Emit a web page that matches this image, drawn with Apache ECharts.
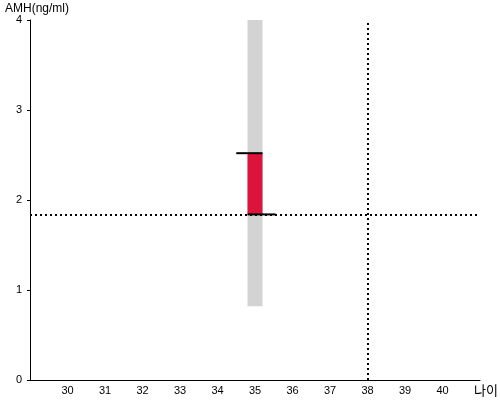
<!DOCTYPE html>
<html>
<head>
<meta charset="utf-8">
<script src="https://cdn.jsdelivr.net/npm/echarts@6/dist/echarts.min.js"></script>
<style>
  html, body { margin: 0; padding: 0; background: #fff; }
  #chart { width: 500px; height: 400px; }
</style>
</head>
<body>
<div id="chart"></div>
<script>
// 축 범위
let xRange = [29, 41]
let yRange = [0, 4]
// 회색 정상범위 [x0, x1, y0, y1]
let grayBox = [34.8, 35.2, 0.82, 4]
// 빨간 막대 [x0, x1, y0, y1]
let redBox = [34.8, 35.2, 1.84, 2.52]
// 검은 가로선 [x0, x1, y]
let topTick = [34.5, 35.2, 2.52]
let bottomTick = [34.8, 35.55, 1.84]
// 점선 기준
let refAge = 38
let refAmh = 1.84

let myChart = echarts.init(document.getElementById('chart'))

function boxItem (params, api) {
  let d = params.dataIndex === 0 ? grayBox : redBox
  let p0 = api.coord([d[0], d[3]])
  let p1 = api.coord([d[1], d[2]])
  return {
    type: 'rect',
    shape: { x: p0[0], y: p0[1], width: p1[0] - p0[0], height: p1[1] - p0[1] },
    style: { fill: params.dataIndex === 0 ? '#d3d3d3' : '#dc143c' },
  }
}

function tickItem (params, api) {
  let d = params.dataIndex === 0 ? topTick : bottomTick
  let p0 = api.coord([d[0], d[2]])
  let p1 = api.coord([d[1], d[2]])
  return {
    type: 'line',
    shape: { x1: p0[0], y1: p0[1], x2: p1[0], y2: p1[1] },
    style: { stroke: '#000', lineWidth: 2 },
  }
}

myChart.setOption({
  animation: false,
  textStyle: { fontFamily: 'Liberation Sans, Arial, sans-serif' },
  grid: { left: 30, right: 20, top: 20, bottom: 20, outerBoundsMode: 'none' },
  graphic: [
    {
      type: 'text',
      left: 474,
      top: 384,
      style: { text: '나이', fill: '#000', fontSize: 13, fontFamily: 'Noto Sans CJK KR' },
    },
    {
      type: 'text',
      left: 5,
      top: 3,
      style: { text: 'AMH(ng/ml)', fill: '#000', fontSize: 12, fontFamily: 'Liberation Sans, Arial, sans-serif' },
    },
  ],
  xAxis: {
    type: 'value',
    min: xRange[0],
    max: xRange[1],
    interval: 1,
    axisLine: { lineStyle: { color: '#000', width: 1 } },
    axisTick: { show: false },
    splitLine: { show: false },
    axisLabel: {
      color: '#000',
      fontSize: 11,
      margin: 5,
      showMinLabel: false,
      showMaxLabel: false,
    },
  },
  yAxis: {
    type: 'value',
    min: yRange[0],
    max: yRange[1],
    interval: 1,
    axisLine: { lineStyle: { color: '#000', width: 1 } },
    axisTick: { show: true, length: 3, lineStyle: { color: '#000' } },
    splitLine: { show: false },
    axisLabel: { color: '#000', fontSize: 11, margin: 8 },
  },
  series: [
    {
      type: 'custom',
      renderItem: boxItem,
      data: [grayBox, redBox],
      z: 2,
    },
    {
      type: 'line',
      data: [],
      markLine: {
        symbol: 'none',
        silent: true,
        label: { show: false },
        lineStyle: { color: '#000', type: [2, 3], width: 2 },
        data: [{ xAxis: refAge }, { yAxis: refAmh }],
      },
      z: 3,
    },
    {
      type: 'custom',
      renderItem: tickItem,
      data: [topTick, bottomTick],
      z: 4,
    },
  ],
})
</script>
</body>
</html>
